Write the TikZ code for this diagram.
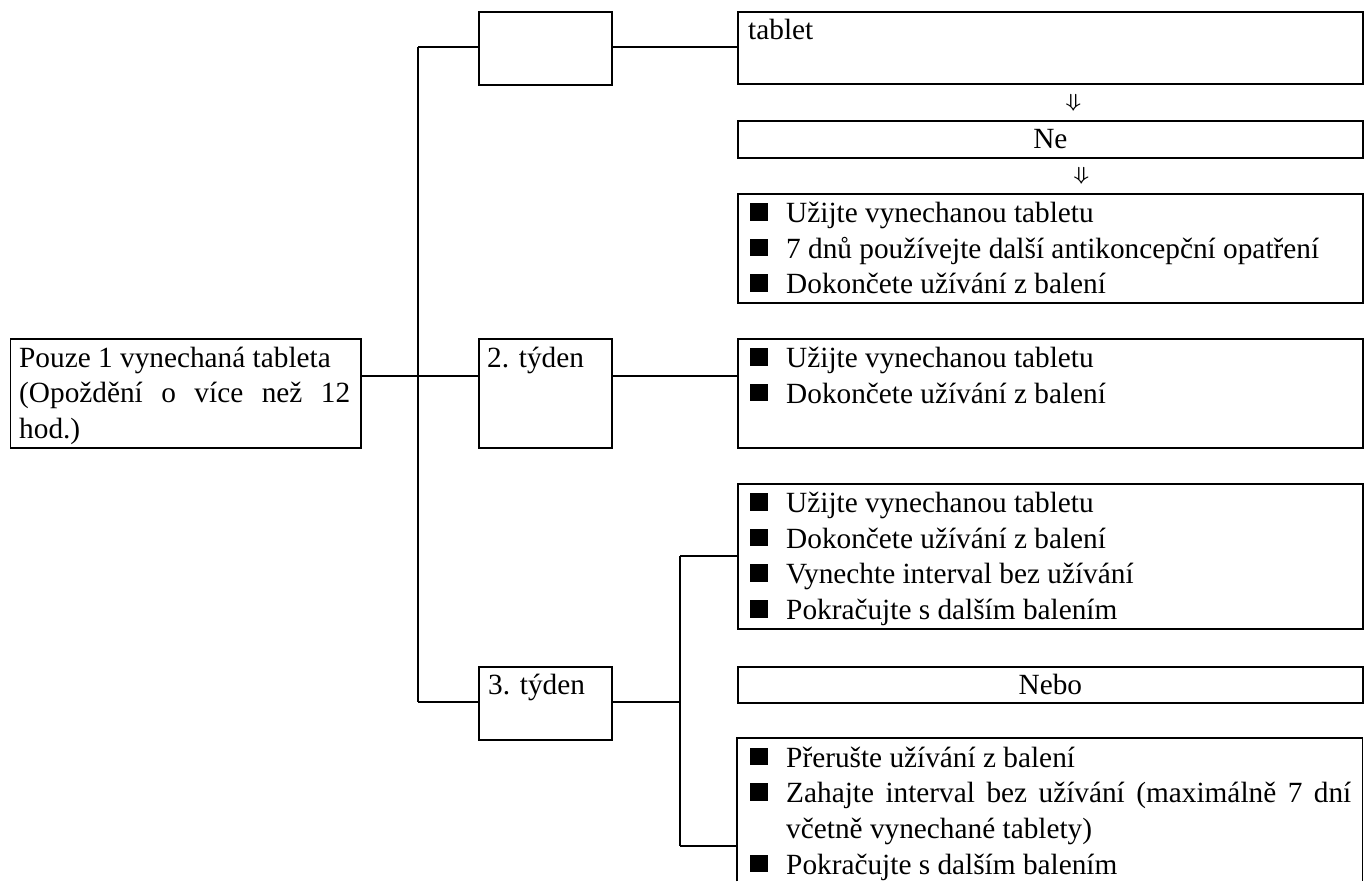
\documentclass[tikz,border=0pt]{standalone}
\usepackage{fontspec}
\setmainfont{Liberation Serif}
\usetikzlibrary{calc}
\setlength{\parindent}{0pt}
\hyphenpenalty=10000
\exhyphenpenalty=10000
\newcommand{\bsq}{\rule[2pt]{18pt}{17.5pt}}
\newcommand{\bitem}[1]{\noindent\hangindent=36pt\hangafter=1\makebox[36pt][l]{\bsq}#1\par}
\newcommand{\dnarrow}{\scalebox{2.2}[1.9]{\boldmath$\Downarrow$}}
\begin{document}
\begin{tikzpicture}[x=1pt,y=-1pt,
  box/.style={draw, line width=1.8pt, inner sep=0pt, anchor=north west,
    font=\fontsize{29.3}{35.7}\selectfont},
  openbox/.style={inner sep=0pt, anchor=north west},
  txt/.style={inner sep=0pt, anchor=base west,
    font=\fontsize{29.3}{35.7}\selectfont},
  conn/.style={line width=1.8pt},
  arr/.style={inner sep=0pt}]
\useasboundingbox (0,0) rectangle (1370,881);
\fill[white] (0,0) rectangle (1370,881);

% boxes
\node[box, minimum width=350.5pt, minimum height=109pt] (L) at (9.5,338) {};
\node[box, minimum width=133pt, minimum height=73pt] (W1) at (478,11) {};
\node[box, minimum width=133pt, minimum height=109pt] (W2) at (478,338) {};
\node[box, minimum width=133pt, minimum height=73pt] (W3) at (478,666) {};
\node[box, minimum width=625pt, minimum height=72pt] (T) at (737,11) {};
\node[box, minimum width=625pt, minimum height=37pt] (Ne) at (737,120) {Ne};
\node[box, minimum width=625pt, minimum height=109pt] (B1) at (737,193) {};
\node[box, minimum width=625pt, minimum height=109pt] (B2) at (737,338) {};
\node[box, minimum width=625pt, minimum height=145pt] (B3a) at (737,483) {};
\node[box, minimum width=625pt, minimum height=36pt] (Nebo) at (737,666) {Nebo};
\node[openbox, minimum width=625pt, minimum height=143pt] (B3b) at (737,738) {};
\draw[conn] (B3b.south west) -- (B3b.north west) -- (B3b.north east) -- (B3b.south east);

% texts
\node[txt, text width=331pt, align=justify] (Ltxt) at ($(L.north west)+(9.5,29)$)
  {Pouze 1 vynechaná tableta\par(Opoždění o více než 12 hod.)};
\node[txt] (W2txt) at ($(W2.north west)+(9,29)$) {2. týden};
\node[txt] (W3txt) at ($(W3.north west)+(10,28)$) {3. týden};
\node[txt] (Ttxt) at ($(T.north west)+(11,28)$) {tablet};
\node[txt, text width=601pt, align=justify] (B1txt) at ($(B1.north west)+(13,29.5)$)
  {\bitem{Užijte vynechanou tabletu}\bitem{7 dnů používejte další antikoncepční opatření}\bitem{Dokončete užívání z balení}};
\node[txt, text width=601pt, align=justify] (B2txt) at ($(B2.north west)+(13,29.5)$)
  {\bitem{Užijte vynechanou tabletu}\bitem{Dokončete užívání z balení}};
\node[txt, text width=601pt, align=justify] (B3atxt) at ($(B3a.north west)+(13,29.5)$)
  {\bitem{Užijte vynechanou tabletu}\bitem{Dokončete užívání z balení}\bitem{Vynechte interval bez užívání}\bitem{Pokračujte s dalším balením}};
\node[txt, text width=601pt, align=justify] (B3btxt) at ($(B3b.north west)+(13,29)$)
  {\bitem{Přerušte užívání z balení}\bitem{Zahajte interval bez užívání (maximálně 7 dní včetně vynechané tablety)}\bitem{Pokračujte s dalším balením}};

% down arrows
\node[arr] (a1) at ($(T.south)!0.5!(Ne.north)+(23,0)$) {\dnarrow};
\node[arr] (a2) at ($(Ne.south)!0.5!(B1.north)+(31,0)$) {\dnarrow};

% connectors
\coordinate (tTop) at (418,47);
\coordinate (tMid) at (418,376);
\coordinate (tBot) at (418,702);
\coordinate (sTop) at (680,556);
\coordinate (sMid) at (680,702);
\coordinate (sBot) at (680,846);
\draw[conn] (tTop) -- (tBot);
\draw[conn] (tTop) -- (W1.west |- tTop);
\draw[conn] (tBot) -- (W3.west |- tBot);
\draw[conn] (L.east |- tMid) -- (W2.west |- tMid);
\draw[conn] (W1.east |- tTop) -- (T.west |- tTop);
\draw[conn] (W2.east |- tMid) -- (B2.west |- tMid);
\draw[conn] (W3.east |- tBot) -- (sMid);
\draw[conn] (sTop) -- (sBot);
\draw[conn] (sTop) -- (B3a.west |- sTop);
\draw[conn] (sBot) -- (B3b.west |- sBot);
\end{tikzpicture}
\end{document}
